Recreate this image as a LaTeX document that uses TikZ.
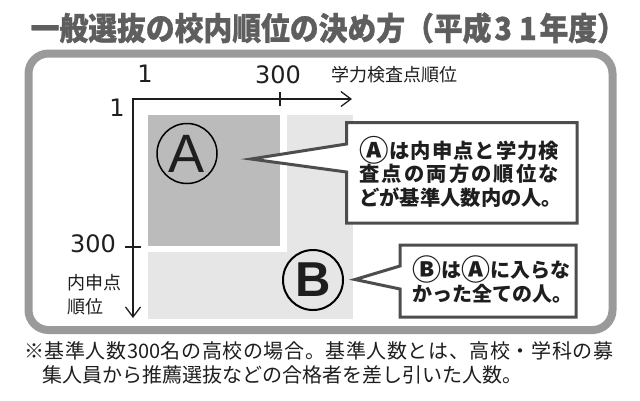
\documentclass[tikz,border=0pt]{standalone}
\usepackage{fontspec}
\usepackage{graphicx}
\usetikzlibrary{arrows.meta}
\newfontfamily\jp{Noto Sans CJK JP}
\newfontfamily\jptitle{Noto Sans CJK JP}[FakeBold=1]
\newfontfamily\latn{Liberation Sans}
\newfontfamily\dig{DejaVu Sans}
\definecolor{framegray}{HTML}{9A9A9A}
\definecolor{titlegray}{HTML}{5E5E5E}
\definecolor{darkfill}{HTML}{BBBBBB}
\definecolor{lightfill}{HTML}{E6E6E6}
\definecolor{calloutline}{HTML}{4D4D4D}
\definecolor{inkc}{HTML}{1E1E1E}
\def\spstop{\spstop}
\def\sprA#1{#1\sprB}
\def\sprB#1{\def\sptmp{#1}\ifx\sptmp\spstop\else\hfil#1\expandafter\sprB\fi}
\newcommand\spreadto[2]{\makebox[#1][s]{\sprA#2\spstop}}
\newcommand\circA{\raisebox{-0.15em}{\scalebox{1.45}{Ⓐ}}}
\newcommand\circB{\raisebox{-0.15em}{\scalebox{1.45}{Ⓑ}}}
\tikzset{
  frame/.style={line width=8pt, draw=framegray, rounded corners=20pt},
  axisline/.style={line width=1.3pt, draw=inkc},
  callout/.style={fill=white, draw=calloutline, line width=3pt, line join=miter},
  bigletter/.style={circle, draw=black, minimum size=60pt, inner sep=0pt, text=inkc},
  axislabel/.style={inner sep=0pt, text=inkc},
  calltext/.style={inner sep=0pt, align=left, text=inkc, anchor=west},
}
\begin{document}
\begin{tikzpicture}[x=1pt,y=-1pt]
\useasboundingbox[fill=white] (0,0) rectangle (640,400);
% title
\node[anchor=west, inner sep=0pt, text=titlegray] (title) at (30.5,28)
  {\scalebox{1}[1.1]{\fontsize{28.8}{30}\jptitle\bfseries 一般選抜の校内順位の決め方（平成\kern0.1em 3\kern0.25em 1\kern0.1em 年度）}};
% frame
\draw[frame] (28.5,53.5) rectangle (612.5,330);
% regions
\fill[lightfill] (148,115) rectangle (353,318.5);
\fill[white] (148,115) rectangle (286.5,252);
\fill[darkfill] (148,115) rectangle (280,246);
% axes
\coordinate (O) at (133,99);
\coordinate (X) at (352,99);
\coordinate (Y) at (133,318);
\draw[axisline, {Straight Barb[length=10pt,width=15pt]}-{Straight Barb[length=10pt,width=15pt]}] (X) -- (O) -- (Y);
\coordinate (tx1) at (280,92);
\coordinate (tx2) at (280,106);
\coordinate (ty1) at (125,247);
\coordinate (ty2) at (141,247);
\draw[axisline] (tx1) -- (tx2);
\draw[axisline] (ty1) -- (ty2);
% axis labels
\node[axislabel] (one1) at (145,74) {\fontsize{24}{26}\dig 1};
\node[axislabel] (thr1) at (278,75) {\fontsize{24}{26}\dig 300};
\node[axislabel, anchor=west] (xlab) at (331,75) {\fontsize{18}{20}\jp 学力検査点順位};
\node[axislabel] (one2) at (117,108) {\fontsize{24}{26}\dig 1};
\node[axislabel] (thr2) at (93,244) {\fontsize{24}{26}\dig 300};
\node[axislabel, anchor=west] (ylab1) at (67,283) {\fontsize{18}{20}\jp 内申点};
\node[axislabel, anchor=west] (ylab2) at (67,307) {\fontsize{18}{20}\jp 順位};
% circled letters
\node[bigletter, line width=1.5pt] (circA) at (187,153.5) {\fontsize{54}{56}\latn A};
\node[bigletter, line width=2pt] (circB) at (313,280) {\fontsize{49}{51}\latn\bfseries B};
% callout A
\coordinate (tipA) at (251,159);
\path[callout] (346.5,122.5) -- (577,122.5) -- (577,223) -- (346.5,223) -- (346.5,172) -- (tipA) -- (346.5,144) -- cycle;
\node[calltext, font=\fontsize{20.3}{23.5}\jp\bfseries] (txtA) at (359,171.5)
  {\spreadto{200pt}{{\circA}は内申点と学力検}\\ \spreadto{200pt}{査点の両方の順位な}\\ どが基準人数内の人。};
% callout B
\coordinate (tipB) at (355,279.5);
\path[callout] (400,245) -- (576,245) -- (576,317) -- (400,317) -- (400,289) -- (tipB) -- (400,266) -- cycle;
\node[calltext, font=\fontsize{20}{24.5}\jp\bfseries] (txtB) at (412,279.5)
  {\makebox[152pt][s]{\circB は\circA に\hfil 入\hfil ら\hfil な}\\ かった全ての人。};
% footnote
\node[anchor=west, inner sep=0pt, text=inkc] (note1) at (24,351)
  {\fontsize{20}{24}\jp\spreadto{589pt}{※基準人数{300}名の高校の場合。基準人数とは、高校・学科の募}};
\node[anchor=west, inner sep=0pt, text=inkc] (note2) at (42,375)
  {\fontsize{20}{24}\jp 集人員から推薦選抜などの合格者を差し引いた人数。};
\end{tikzpicture}
\end{document}
